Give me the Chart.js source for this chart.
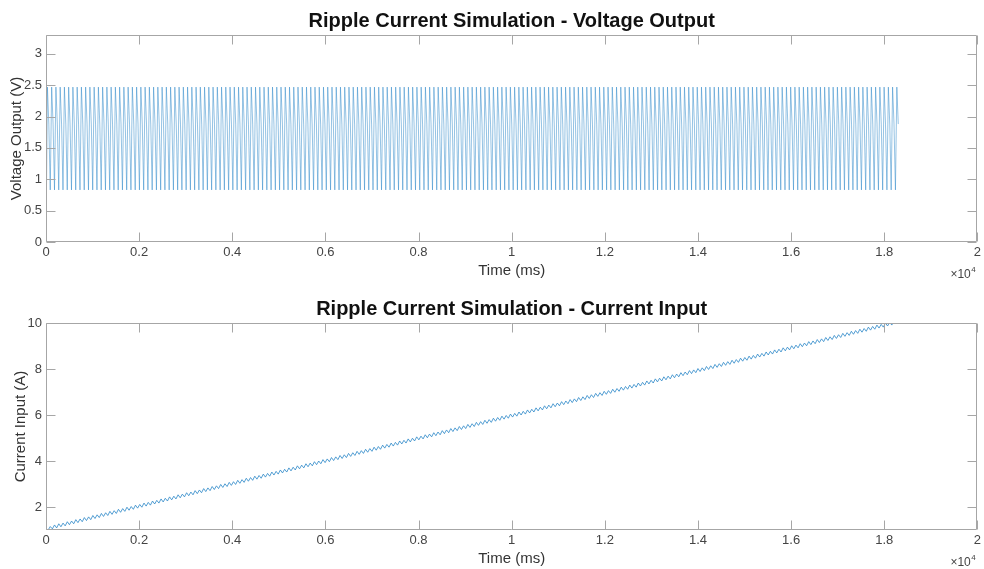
<!DOCTYPE html>
<html>
<head>
<meta charset="utf-8">
<script src="https://cdn.jsdelivr.net/npm/chart.js@4/dist/chart.umd.min.js"></script>
<style>
  html, body { margin: 0; padding: 0; background: #fff; overflow: hidden; width: 984px; height: 569px; }
  .panel { position: absolute; left: 0; width: 984px; height: 288px; }
  #p1 { top: 0; }
  #p2 { top: 288px; }
  canvas { display: block; }
</style>
</head>
<body>
<div class="panel" id="p1"><canvas id="c1" width="984" height="288"></canvas></div>
<div class="panel" id="p2"><canvas id="c2" width="984" height="288"></canvas></div>
<script>
// Sample spacing (ms) of each recorded trace
const VOLTAGE_SAMPLE_MS = 30.4;
const CURRENT_SAMPLE_MS = 45.75;

// Axis tick positions
const timeTicks = [0, 2000, 4000, 6000, 8000, 10000, 12000, 14000, 16000, 18000, 20000];
const voltageTicks = [0, 0.5, 1, 1.5, 2, 2.5, 3];
const currentTicks = [2, 4, 6, 8, 10];

// Output voltage samples (V)
const voltageOutput = [0,
2.47,1.88,0.83,2.47,1.88,0.83,2.47,1.88,0.83,2.47,1.88,0.83,2.47,1.88,0.83,2.47,1.88,0.83,2.47,1.88,0.83,2.47,1.88,0.83,2.47,1.88,0.83,2.47,1.88,0.83,
2.47,1.88,0.83,2.47,1.88,0.83,2.47,1.88,0.83,2.47,1.88,0.83,2.47,1.88,0.83,2.47,1.88,0.83,2.47,1.88,0.83,2.47,1.88,0.83,2.47,1.88,0.83,2.47,1.88,0.83,
2.47,1.88,0.83,2.47,1.88,0.83,2.47,1.88,0.83,2.47,1.88,0.83,2.47,1.88,0.83,2.47,1.88,0.83,2.47,1.88,0.83,2.47,1.88,0.83,2.47,1.88,0.83,2.47,1.88,0.83,
2.47,1.88,0.83,2.47,1.88,0.83,2.47,1.88,0.83,2.47,1.88,0.83,2.47,1.88,0.83,2.47,1.88,0.83,2.47,1.88,0.83,2.47,1.88,0.83,2.47,1.88,0.83,2.47,1.88,0.83,
2.47,1.88,0.83,2.47,1.88,0.83,2.47,1.88,0.83,2.47,1.88,0.83,2.47,1.88,0.83,2.47,1.88,0.83,2.47,1.88,0.83,2.47,1.88,0.83,2.47,1.88,0.83,2.47,1.88,0.83,
2.47,1.88,0.83,2.47,1.88,0.83,2.47,1.88,0.83,2.47,1.88,0.83,2.47,1.88,0.83,2.47,1.88,0.83,2.47,1.88,0.83,2.47,1.88,0.83,2.47,1.88,0.83,2.47,1.88,0.83,
2.47,1.88,0.83,2.47,1.88,0.83,2.47,1.88,0.83,2.47,1.88,0.83,2.47,1.88,0.83,2.47,1.88,0.83,2.47,1.88,0.83,2.47,1.88,0.83,2.47,1.88,0.83,2.47,1.88,0.83,
2.47,1.88,0.83,2.47,1.88,0.83,2.47,1.88,0.83,2.47,1.88,0.83,2.47,1.88,0.83,2.47,1.88,0.83,2.47,1.88,0.83,2.47,1.88,0.83,2.47,1.88,0.83,2.47,1.88,0.83,
2.47,1.88,0.83,2.47,1.88,0.83,2.47,1.88,0.83,2.47,1.88,0.83,2.47,1.88,0.83,2.47,1.88,0.83,2.47,1.88,0.83,2.47,1.88,0.83,2.47,1.88,0.83,2.47,1.88,0.83,
2.47,1.88,0.83,2.47,1.88,0.83,2.47,1.88,0.83,2.47,1.88,0.83,2.47,1.88,0.83,2.47,1.88,0.83,2.47,1.88,0.83,2.47,1.88,0.83,2.47,1.88,0.83,2.47,1.88,0.83,
2.47,1.88,0.83,2.47,1.88,0.83,2.47,1.88,0.83,2.47,1.88,0.83,2.47,1.88,0.83,2.47,1.88,0.83,2.47,1.88,0.83,2.47,1.88,0.83,2.47,1.88,0.83,2.47,1.88,0.83,
2.47,1.88,0.83,2.47,1.88,0.83,2.47,1.88,0.83,2.47,1.88,0.83,2.47,1.88,0.83,2.47,1.88,0.83,2.47,1.88,0.83,2.47,1.88,0.83,2.47,1.88,0.83,2.47,1.88,0.83,
2.47,1.88,0.83,2.47,1.88,0.83,2.47,1.88,0.83,2.47,1.88,0.83,2.47,1.88,0.83,2.47,1.88,0.83,2.47,1.88,0.83,2.47,1.88,0.83,2.47,1.88,0.83,2.47,1.88,0.83,
2.47,1.88,0.83,2.47,1.88,0.83,2.47,1.88,0.83,2.47,1.88,0.83,2.47,1.88,0.83,2.47,1.88,0.83,2.47,1.88,0.83,2.47,1.88,0.83,2.47,1.88,0.83,2.47,1.88,0.83,
2.47,1.88,0.83,2.47,1.88,0.83,2.47,1.88,0.83,2.47,1.88,0.83,2.47,1.88,0.83,2.47,1.88,0.83,2.47,1.88,0.83,2.47,1.88,0.83,2.47,1.88,0.83,2.47,1.88,0.83,
2.47,1.88,0.83,2.47,1.88,0.83,2.47,1.88,0.83,2.47,1.88,0.83,2.47,1.88,0.83,2.47,1.88,0.83,2.47,1.88,0.83,2.47,1.88,0.83,2.47,1.88,0.83,2.47,1.88,0.83,
2.47,1.88,0.83,2.47,1.88,0.83,2.47,1.88,0.83,2.47,1.88,0.83,2.47,1.88,0.83,2.47,1.88,0.83,2.47,1.88,0.83,2.47,1.88,0.83,2.47,1.88,0.83,2.47,1.88,0.83,
2.47,1.88,0.83,2.47,1.88,0.83,2.47,1.88,0.83,2.47,1.88,0.83,2.47,1.88,0.83,2.47,1.88,0.83,2.47,1.88,0.83,2.47,1.88,0.83,2.47,1.88,0.83,2.47,1.88,0.83,
2.47,1.88,0.83,2.47,1.88,0.83,2.47,1.88,0.83,2.47,1.88,0.83,2.47,1.88,0.83,2.47,1.88,0.83,2.47,1.88,0.83,2.47,1.88,0.83,2.47,1.88,0.83,2.47,1.88,0.83,
2.47,1.88,0.83,2.47,1.88,0.83,2.47,1.88,0.83,2.47,1.88,0.83,2.47,1.88,0.83,2.47,1.88,0.83,2.47,1.88,0.83,2.47,1.88,0.83,2.47,1.88,0.83,2.47,1.88,0.83,
2.47,1.88];

// Input current samples (A)
const currentInput = [1.00,
1.00,1.15,1.05,1.22,1.09,1.27,1.14,1.30,1.18,1.36,1.23,1.39,1.27,1.45,1.32,1.48,1.36,1.54,1.41,1.57,
1.45,1.63,1.50,1.66,1.54,1.72,1.59,1.75,1.63,1.81,1.68,1.84,1.72,1.90,1.77,1.93,1.81,1.99,1.86,2.02,
1.90,2.08,1.95,2.11,1.99,2.17,2.04,2.20,2.08,2.26,2.13,2.29,2.17,2.35,2.22,2.38,2.26,2.44,2.31,2.47,
2.35,2.53,2.40,2.56,2.44,2.62,2.49,2.65,2.53,2.71,2.58,2.74,2.62,2.80,2.67,2.83,2.71,2.89,2.76,2.92,
2.80,2.98,2.85,3.01,2.89,3.07,2.94,3.10,2.98,3.16,3.03,3.19,3.07,3.25,3.12,3.28,3.16,3.34,3.21,3.37,
3.25,3.43,3.30,3.46,3.34,3.52,3.39,3.55,3.43,3.61,3.48,3.64,3.52,3.70,3.57,3.73,3.61,3.79,3.66,3.82,
3.70,3.88,3.75,3.91,3.79,3.97,3.84,4.00,3.88,4.06,3.93,4.09,3.97,4.15,4.02,4.18,4.06,4.24,4.11,4.27,
4.15,4.33,4.20,4.36,4.24,4.42,4.29,4.45,4.33,4.51,4.38,4.54,4.42,4.60,4.47,4.63,4.51,4.69,4.56,4.72,
4.60,4.78,4.65,4.81,4.69,4.87,4.74,4.90,4.78,4.96,4.83,4.99,4.87,5.05,4.92,5.08,4.96,5.14,5.01,5.17,
5.05,5.23,5.10,5.26,5.14,5.32,5.19,5.35,5.23,5.41,5.28,5.44,5.32,5.50,5.37,5.53,5.41,5.59,5.46,5.62,
5.50,5.68,5.55,5.71,5.59,5.77,5.64,5.80,5.68,5.86,5.73,5.89,5.77,5.95,5.82,5.98,5.86,6.04,5.91,6.07,
5.95,6.13,6.00,6.16,6.04,6.22,6.09,6.25,6.13,6.31,6.18,6.34,6.22,6.40,6.27,6.43,6.31,6.49,6.36,6.52,
6.40,6.58,6.45,6.61,6.49,6.67,6.54,6.70,6.58,6.76,6.63,6.79,6.67,6.85,6.72,6.88,6.76,6.94,6.81,6.97,
6.85,7.03,6.90,7.06,6.94,7.12,6.99,7.15,7.03,7.21,7.08,7.24,7.12,7.30,7.17,7.33,7.21,7.39,7.26,7.42,
7.30,7.48,7.35,7.51,7.39,7.57,7.44,7.60,7.48,7.66,7.53,7.69,7.57,7.75,7.62,7.78,7.66,7.84,7.71,7.87,
7.75,7.93,7.80,7.96,7.84,8.02,7.89,8.05,7.93,8.11,7.98,8.14,8.02,8.20,8.07,8.23,8.11,8.29,8.16,8.32,
8.20,8.38,8.25,8.41,8.29,8.47,8.34,8.50,8.38,8.56,8.43,8.59,8.47,8.65,8.52,8.68,8.56,8.74,8.61,8.77,
8.65,8.83,8.70,8.86,8.74,8.92,8.79,8.95,8.83,9.01,8.88,9.04,8.92,9.10,8.97,9.13,9.01,9.19,9.06,9.22,
9.10,9.28,9.15,9.31,9.19,9.37,9.24,9.40,9.28,9.46,9.33,9.49,9.37,9.55,9.42,9.58,9.46,9.64,9.51,9.67,
9.55,9.73,9.60,9.76,9.64,9.82,9.69,9.85,9.73,9.91,9.78,9.94,9.82,10.00,9.87,10.03,9.91,10.09,9.96,10.12];

const FONT = '"Liberation Sans", Arial, Helvetica, sans-serif';
Chart.defaults.font.family = FONT;

// Axes box, inward tick marks on all four sides, plot title and the x-axis exponent
const matlabFrame = {
  id: 'matlabFrame',
  afterDatasetsDraw(chart, args, opts) {
    const { ctx, chartArea: a, scales: { x, y } } = chart;
    const TL = 9;
    ctx.save();
    ctx.strokeStyle = '#a6a6a6';
    ctx.lineWidth = 1;
    const L = Math.round(a.left) + 0.5, R = Math.round(a.right) - 0.5;
    const T = Math.round(a.top) + 0.5, B = Math.round(a.bottom) - 0.5;
    ctx.beginPath();
    ctx.rect(L, T, R - L, B - T);
    x.ticks.forEach(t => {
      const px = Math.round(x.getPixelForValue(t.value)) + 0.5;
      ctx.moveTo(px, B); ctx.lineTo(px, B - TL);
      ctx.moveTo(px, T); ctx.lineTo(px, T + TL);
    });
    y.ticks.forEach(t => {
      const py = Math.round(y.getPixelForValue(t.value)) + 0.5;
      ctx.moveTo(L, py); ctx.lineTo(L + TL, py);
      ctx.moveTo(R, py); ctx.lineTo(R - TL, py);
    });
    ctx.stroke();

    ctx.fillStyle = '#111';
    ctx.font = 'bold 20px ' + FONT;
    ctx.textAlign = 'center';
    ctx.textBaseline = 'middle';
    ctx.fillText(opts.title, (a.left + a.right) / 2, a.top - 14);

    ctx.fillStyle = '#444';
    ctx.textAlign = 'left';
    ctx.font = '12px ' + FONT;
    const ex = a.right - 27, ey = a.bottom + 33;
    ctx.fillText('\u00d710', ex, ey);
    const w = ctx.measureText('\u00d710').width;
    ctx.font = '8px ' + FONT;
    ctx.fillText('4', ex + w + 0.5, ey - 5);
    ctx.restore();
  }
};

function buildPanel(canvasId, values, stepMs, yMin, yMax, yTicks, yLabel, yTitlePad, title, lineWidth) {
  const points = values.map((v, i) => ({ x: i * stepMs, y: v }));
  return new Chart(document.getElementById(canvasId), {
    type: 'line',
    data: {
      datasets: [{
        data: points,
        borderColor: '#2a86c8',
        borderWidth: lineWidth,
        pointRadius: 0,
        fill: false,
        tension: 0
      }]
    },
    plugins: [matlabFrame],
    options: {
      responsive: false,
      animation: false,
      events: [],
      layout: { padding: { top: 35, right: 5, bottom: 4, left: 0 } },
      plugins: {
        legend: { display: false },
        tooltip: { enabled: false },
        matlabFrame: { title }
      },
      scales: {
        x: {
          type: 'linear',
          min: 0,
          max: 20000,
          afterBuildTicks: s => { s.ticks = timeTicks.map(v => ({ value: v })); },
          afterFit: s => { s.height = 42; },
          grid: { display: false, drawTicks: false },
          border: { display: false },
          ticks: {
            padding: 3,
            color: '#444',
            font: { size: 13 },
            maxRotation: 0,
            autoSkip: false,
            callback: v => String(+(v / 10000).toFixed(1))
          },
          title: { display: true, text: 'Time (ms)', color: '#333', font: { size: 15 }, padding: { top: 0, bottom: 4 } }
        },
        y: {
          type: 'linear',
          min: yMin,
          max: yMax,
          afterBuildTicks: s => { s.ticks = yTicks.map(v => ({ value: v })); },
          afterFit: s => { s.width = 46; },
          grid: { display: false, drawTicks: false },
          border: { display: false },
          ticks: { padding: 4, color: '#444', font: { size: 13 }, autoSkip: false, callback: v => String(v) },
          title: { display: true, text: yLabel, color: '#333', font: { size: 15 }, padding: { top: yTitlePad, bottom: 0 } }
        }
      }
    }
  });
}

buildPanel('c1', voltageOutput, VOLTAGE_SAMPLE_MS, 0, 3.3, voltageTicks,
  'Voltage Output (V)', 8, 'Ripple Current Simulation - Voltage Output', 0.5);
buildPanel('c2', currentInput, CURRENT_SAMPLE_MS, 1, 10, currentTicks,
  'Current Input (A)', 12, 'Ripple Current Simulation - Current Input', 0.8);
</script>
</body>
</html>
